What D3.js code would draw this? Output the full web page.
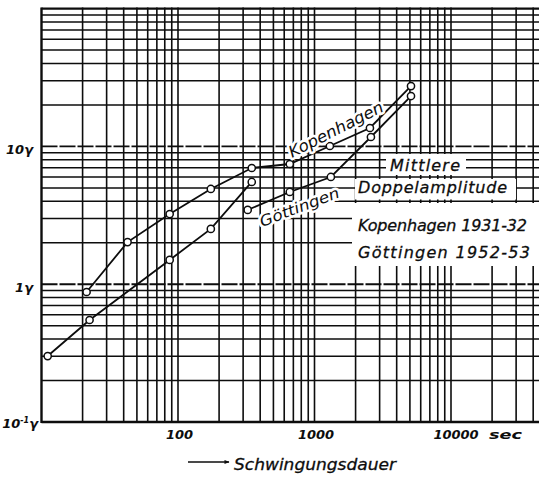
<!DOCTYPE html>
<html><head><meta charset="utf-8">
<script src="https://cdn.jsdelivr.net/npm/d3@7"></script>
<style>body{margin:0;background:#fff}svg{display:block}</style>
</head><body>
<svg id="c" width="539" height="477"></svg>
<script>
// Data (period in s, mean double amplitude in gamma)
const periodsKop = [21.4, 42.7, 86.9, 174, 347, 659, 1296, 2547, 5092];
const ampKop     = [0.878, 2.02, 3.23, 4.91, 6.97, 7.45, 10.07, 13.6, 27.4];
const periodsGoe1 = [11.1, 22.5, 86.9, 174, 347];
const ampGoe1     = [0.301, 0.550, 1.50, 2.52, 5.52];
const periodsGoe2 = [324, 659, 1318, 2590, 5092];
const ampGoe2     = [3.46, 4.67, 6.0, 11.7, 23.2];
const xTicks = [100, 1000, 10000];
const xTickLabels = ["100", "1000", "10000"];
const xUnit = "sec";
const yTicks = [0.1, 1, 10];
const yTickLabels = [["10", "-1", "γ"], ["1", "", "γ"], ["10", "", "γ"]];
const xTitle = "Schwingungsdauer";
const legendTitle = ["Mittlere", "Doppelamplitude"];
const legendItems = ["Kopenhagen 1931-32", "Göttingen 1952-53"];
const curveLabels = ["Kopenhagen", "Göttingen"];

const W = 539, H = 477;
const svg = d3.select("#c");
const ink = "#0d0d0d";
const FONT = "'DejaVu Sans', sans-serif";

const x = d3.scaleLog().domain([10, 100000]).range([41.5, 41.5 + 4 * 136.5]);
const y = d3.scaleLog().domain([0.1, 100]).range([422, 8.6]);

// grid values
const xGrid = [], yGrid = [];
for (let d = 10; d < 100000; d *= 10) for (let k = 1; k <= 9; k++) xGrid.push(d * k);
for (let d = 0.1; d < 99; d *= 10) for (let k = 1; k <= 9; k++) yGrid.push(+(d * k).toPrecision(3));
yGrid.push(100);
const isDecade = v => Math.abs(Math.log10(v) - Math.round(Math.log10(v))) < 1e-6;

const g = svg.append("g");
g.selectAll("line.v").data(xGrid.filter(v => x(v) < W + 2)).enter().append("line")
  .attr("x1", d => x(d)).attr("x2", d => x(d))
  .attr("y1", y(100) - 1).attr("y2", y(0.1) + 1)
  .attr("stroke", ink).attr("stroke-width", d => d === 10 ? 2.4 : 1.6);
g.selectAll("line.h").data(yGrid).enter().append("line")
  .attr("x1", x(10)).attr("x2", W)
  .attr("y1", d => y(d)).attr("y2", d => y(d))
  .attr("stroke", ink)
  .attr("stroke-width", d => (d === 0.1 || d === 100) ? 2.4 : (isDecade(d) ? 1.9 : 1.5))
  .attr("stroke-dasharray", d => (isDecade(d) && d !== 0.1 && d !== 100) ? "16,2" : null);

// white masks behind the legend lettering
const masks = [
  [386, 154, 80, 21],
  [355, 179, 161, 20.5],
  [352, 203, 190, 63]
];
svg.selectAll("rect.m").data(masks).enter().append("rect")
  .attr("x", d => d[0]).attr("y", d => d[1]).attr("width", d => d[2]).attr("height", d => d[3])
  .attr("fill", "#fff");

// curves
const line = d3.line().x(d => x(d[0])).y(d => y(d[1]));
const series = [
  d3.zip(periodsKop, ampKop),
  d3.zip(periodsGoe1, ampGoe1),
  d3.zip(periodsGoe2, ampGoe2)
];
svg.selectAll("path.s").data(series).enter().append("path")
  .attr("d", line).attr("fill", "none").attr("stroke", ink).attr("stroke-width", 1.8);
series.forEach(s => {
  svg.append("g").selectAll("circle").data(s).enter().append("circle")
    .attr("cx", d => x(d[0])).attr("cy", d => y(d[1])).attr("r", 3.6)
    .attr("fill", "#fff").attr("stroke", ink).attr("stroke-width", 1.5);
});

// curve labels with white halo
function halo(sel) {
  return sel.attr("paint-order", "stroke").attr("stroke", "#fff").attr("stroke-width", 5)
    .attr("stroke-linejoin", "round");
}
halo(svg.append("text").text(curveLabels[0])
  .attr("transform", "translate(292,158) rotate(-27)")
  .attr("font-family", FONT).attr("font-style", "italic").attr("font-size", 16)
  .attr("fill", ink).attr("textLength", 104).attr("lengthAdjust", "spacingAndGlyphs"));
halo(svg.append("text").text(curveLabels[1])
  .attr("transform", "translate(262,227) rotate(-21)")
  .attr("font-family", FONT).attr("font-style", "italic").attr("font-size", 15)
  .attr("fill", ink).attr("textLength", 84).attr("lengthAdjust", "spacingAndGlyphs"));

// legend text
const leg = [
  [legendTitle[0], 390, 171, 70],
  [legendTitle[1], 358, 193, 149],
  [legendItems[0], 358, 231, 169],
  [legendItems[1], 358, 258, 172]
];
svg.selectAll("text.l").data(leg).enter().append("text")
  .attr("x", d => d[1]).attr("y", d => d[2]).text(d => d[0])
  .attr("font-family", FONT).attr("font-style", "italic").attr("font-size", 16)
  .attr("fill", ink).attr("stroke", ink).attr("stroke-width", 0.3)
  .attr("textLength", d => d[3]).attr("lengthAdjust", "spacing");

// x tick labels
const xt = svg.append("g");
xTicks.forEach((v, i) => {
  xt.append("text").text(xTickLabels[i])
    .attr("x", x(v) + (i === 2 ? 5 : 1.5)).attr("y", 439).attr("text-anchor", "middle")
    .attr("font-family", FONT).attr("font-style", "italic")
    .attr("font-weight", "bold").attr("font-size", 13).attr("fill", ink);
});
xt.append("text").text(xUnit).attr("x", x(10000) + 38).attr("y", 439)
  .attr("font-family", FONT).attr("font-style", "italic")
  .attr("font-weight", "bold").attr("font-size", 13).attr("fill", ink)
  .attr("textLength", 33).attr("lengthAdjust", "spacingAndGlyphs");

// y tick labels
const yOff = [5.5, 7.5, 8];
yTicks.forEach((v, i) => {
  const lab = yTickLabels[i];
  const t = svg.append("text").attr("x", v === 0.1 ? 38 : 33).attr("y", y(v) + yOff[i])
    .attr("text-anchor", "end").attr("font-family", FONT).attr("font-style", "italic")
    .attr("font-weight", "bold").attr("font-size", 13).attr("fill", ink);
  t.append("tspan").text(lab[0]);
  if (lab[1]) t.append("tspan").text(lab[1]).attr("font-size", 8).attr("dy", -5);
  t.append("tspan").text(lab[2]).attr("dy", lab[1] ? 5 : 0);
});

// x axis title with arrow
svg.append("defs").append("marker").attr("id", "ar").attr("viewBox", "0 0 10 10")
  .attr("refX", 9).attr("refY", 5).attr("markerWidth", 8).attr("markerHeight", 5)
  .attr("orient", "auto").attr("markerUnits", "userSpaceOnUse")
  .append("path").attr("d", "M0,1 L10,5 L0,9 Z").attr("fill", ink);
svg.append("line").attr("x1", 188).attr("x2", 229).attr("y1", 462).attr("y2", 462)
  .attr("stroke", ink).attr("stroke-width", 1.7).attr("marker-end", "url(#ar)");
svg.append("text").text(xTitle).attr("x", 234).attr("y", 470)
  .attr("font-family", FONT).attr("font-style", "italic").attr("font-size", 16)
  .attr("fill", ink).attr("stroke", ink).attr("stroke-width", 0.3)
  .attr("textLength", 162).attr("lengthAdjust", "spacingAndGlyphs");
</script>
</body></html>
